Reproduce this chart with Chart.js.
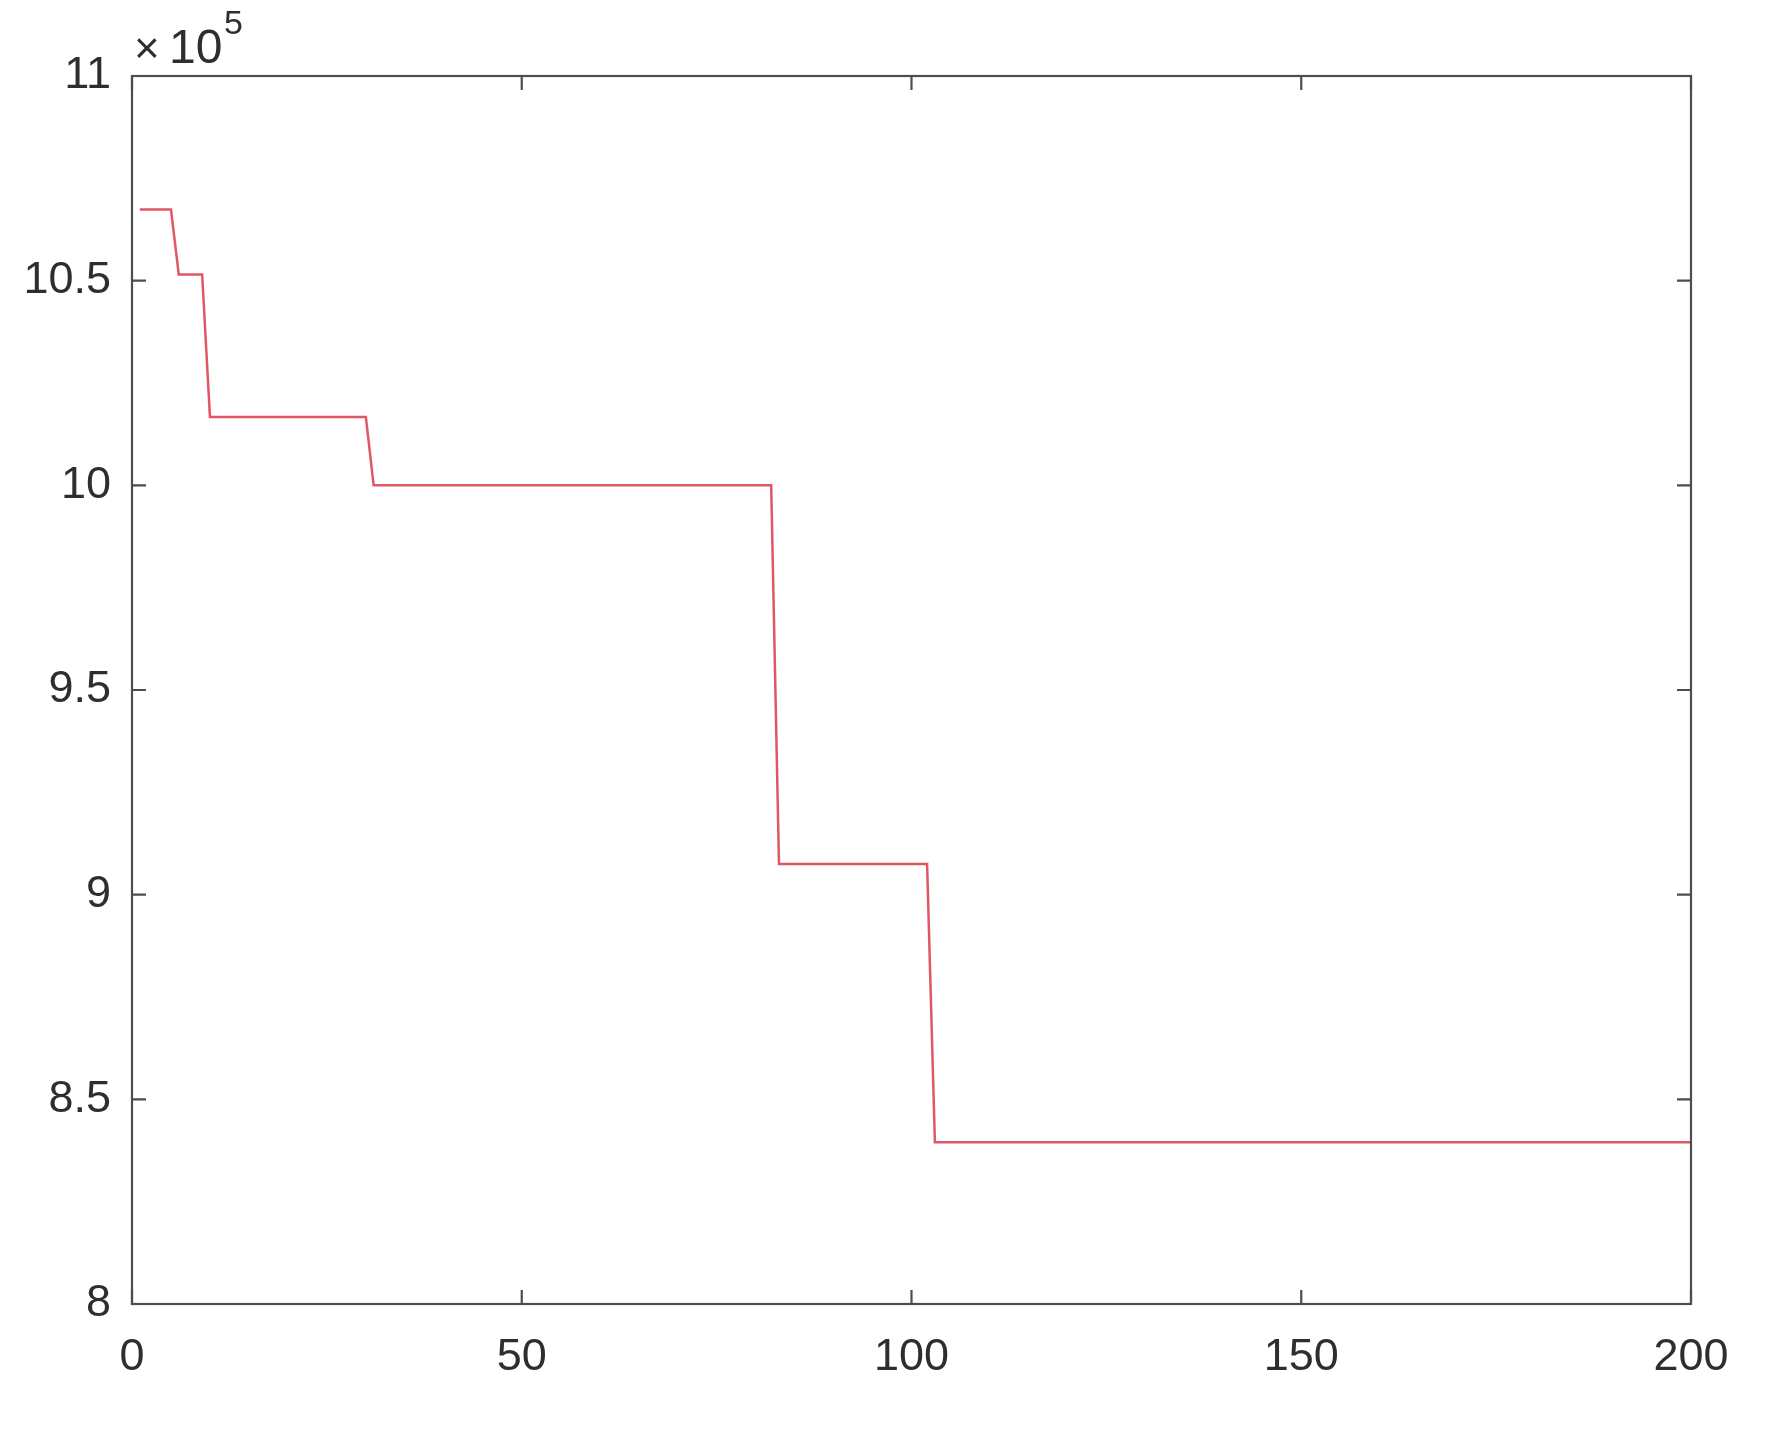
<!DOCTYPE html>
<html>
<head>
<meta charset="utf-8">
<title>Step chart</title>
<script src="https://cdn.jsdelivr.net/npm/chart.js@4/dist/chart.umd.min.js"></script>
<style>
  html, body { margin: 0; padding: 0; background: #fff; }
  canvas { display: block; }
</style>
</head>
<body>
<canvas id="step-chart" width="1773" height="1433"></canvas>
<script>
// Corner points of the curve (iteration, value)
var iterations = [1, 5, 6, 9, 10, 30, 31, 82, 83, 102, 103, 200];
var values = [
  1067400, 1067400, 1051500, 1051500, 1016700, 1016700,
  1000000, 1000000, 907500, 907500, 839500, 839500
];
var xTicks = [0, 50, 100, 150, 200];
var yTicks = [800000, 850000, 900000, 950000, 1000000, 1050000, 1100000];

var axisColor = "#4d4d4d";
var textColor = "#2e2e2e";
var fontFamily = "'Liberation Sans', Arial, sans-serif";

var points = iterations.map(function (x, i) {
  return { x: x, y: values[i] };
});

// draws the box, inward ticks and the x10^5 multiplier
var boxPlugin = {
  id: "boxPlugin",
  afterDraw: function (chart) {
    var ctx = chart.ctx;
    var area = chart.chartArea;
    var xs = chart.scales.x;
    var ys = chart.scales.y;
    var tl = 14;
    ctx.save();
    ctx.strokeStyle = axisColor;
    ctx.lineWidth = 2.2;
    ctx.strokeRect(area.left, area.top, area.right - area.left, area.bottom - area.top);
    ctx.beginPath();
    xTicks.forEach(function (v) {
      var px = xs.getPixelForValue(v);
      ctx.moveTo(px, area.bottom);
      ctx.lineTo(px, area.bottom - tl);
      ctx.moveTo(px, area.top);
      ctx.lineTo(px, area.top + tl);
    });
    yTicks.forEach(function (v) {
      var py = ys.getPixelForValue(v);
      ctx.moveTo(area.left, py);
      ctx.lineTo(area.left + tl, py);
      ctx.moveTo(area.right, py);
      ctx.lineTo(area.right - tl, py);
    });
    ctx.stroke();

    ctx.fillStyle = textColor;
    ctx.textBaseline = "alphabetic";
    ctx.textAlign = "left";
    ctx.font = "44px " + fontFamily;
    ctx.fillText("\u00d7", area.left + 2, area.top - 13);
    ctx.font = "48px " + fontFamily;
    ctx.fillText("10", area.left + 37, area.top - 13);
    ctx.font = "34px " + fontFamily;
    ctx.fillText("5", area.left + 92, area.top - 42);
    ctx.restore();
  },
};

var chart = new Chart(document.getElementById("step-chart").getContext("2d"), {
  type: "line",
  data: {
    datasets: [
      {
        data: points,
        borderColor: "rgb(226, 86, 100)",
        borderWidth: 2.5,
        pointRadius: 0,
        fill: false,
        tension: 0,
      },
    ],
  },
  options: {
    responsive: false,
    animation: false,
    layout: {
      padding: { left: 0, right: 82, top: 76, bottom: 0 },
    },
    plugins: {
      legend: { display: false },
      tooltip: { enabled: false },
    },
    scales: {
      x: {
        type: "linear",
        min: 0,
        max: 200,
        afterBuildTicks: function (scale) {
          scale.ticks = xTicks.map(function (v) { return { value: v }; });
        },
        afterFit: function (scale) { scale.height = 129; },
        grid: { display: false, drawTicks: false },
        border: { display: false },
        ticks: {
          color: textColor,
          font: { family: fontFamily, size: 45 },
          padding: 27,
          maxRotation: 0,
          autoSkip: false,
        },
      },
      y: {
        type: "linear",
        min: 800000,
        max: 1100000,
        afterBuildTicks: function (scale) {
          scale.ticks = yTicks.map(function (v) { return { value: v }; });
        },
        afterFit: function (scale) { scale.width = 132; },
        grid: { display: false, drawTicks: false },
        border: { display: false },
        ticks: {
          color: textColor,
          font: { family: fontFamily, size: 45 },
          padding: 21,
          autoSkip: false,
          callback: function (v) { return String(v / 100000); },
        },
      },
    },
  },
  plugins: [boxPlugin],
});
</script>
</body>
</html>
